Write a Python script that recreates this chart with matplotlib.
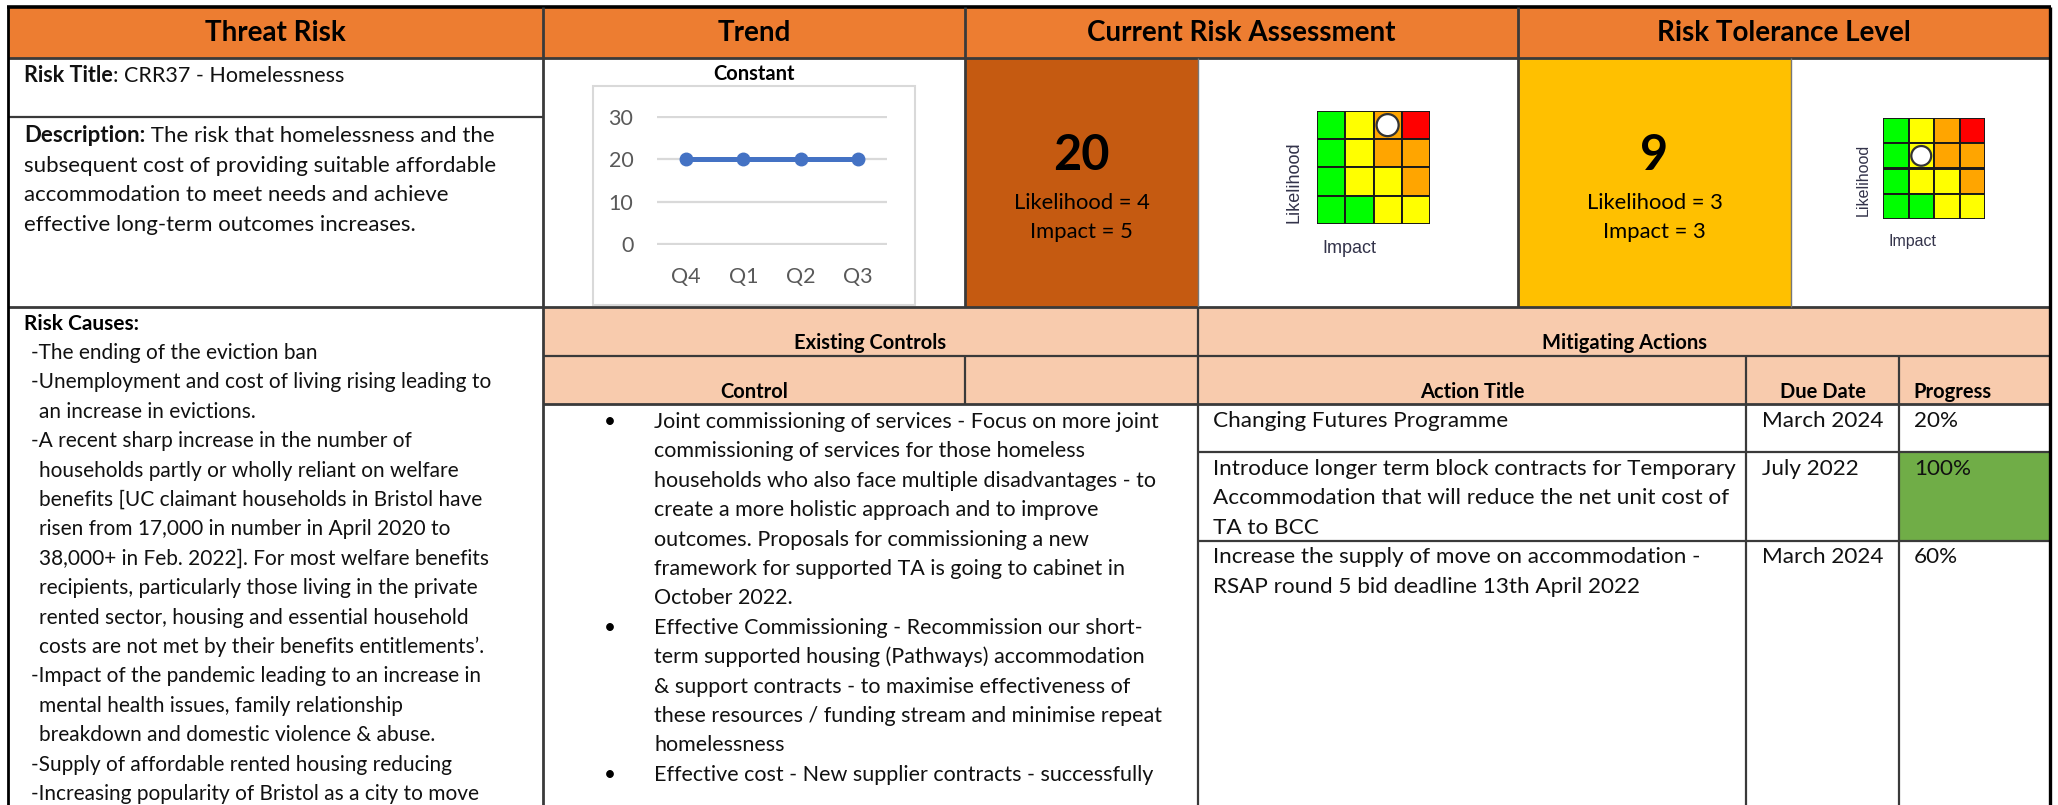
import matplotlib
matplotlib.use("Agg")
import matplotlib.pyplot as plt
from matplotlib.patches import Rectangle, Circle

plt.rcParams['font.family'] = ['Lato', 'DejaVu Sans']

W, H = 2058, 805

# ---------------- data ----------------
headers = ["Threat Risk", "Trend", "Current Risk Assessment", "Risk Tolerance Level"]

trend_title = "Constant"
quarters = ["Q4", "Q1", "Q2", "Q3"]
scores = [20, 20, 20, 20]
score_ticks = [0, 10, 20, 30]

current_score = 20
current_likelihood = 4
current_impact = 5
tolerance_score = 9
tolerance_likelihood = 3
tolerance_impact = 3

# heat map colours, top row first
matrix_colours = [
    ["#00FF00", "#FFFF00", "#FFA500", "#FF0000"],
    ["#00FF00", "#FFFF00", "#FFA500", "#FFA500"],
    ["#00FF00", "#FFFF00", "#FFFF00", "#FFA500"],
    ["#00FF00", "#00FF00", "#FFFF00", "#FFFF00"],
]
current_cell = (2, 0)    # (column, row from top)
tolerance_cell = (1, 1)

risk_title = "CRR37 - Homelessness"
description = [
    "The risk that homelessness and the",
    "subsequent cost of providing suitable affordable",
    "accommodation to meet needs and achieve",
    "effective long-term outcomes increases.",
]
causes = [
    "-The ending of the eviction ban",
    "-Unemployment and cost of living rising leading to",
    "an increase in evictions.",
    "-A recent sharp increase in the number of",
    "households partly or wholly reliant on welfare",
    "benefits [UC claimant households in Bristol have",
    "risen from 17,000 in number in April 2020 to",
    "38,000+ in Feb. 2022]. For most welfare benefits",
    "recipients, particularly those living in the private",
    "rented sector, housing and essential household",
    "costs are not met by their benefits entitlements\u2019.",
    "-Impact of the pandemic leading to an increase in",
    "mental health issues, family relationship",
    "breakdown and domestic violence & abuse.",
    "-Supply of affordable rented housing reducing",
    "-Increasing popularity of Bristol as a city to move",
]
controls = [
    ["Joint commissioning of services - Focus on more joint",
     "commissioning of services for those homeless",
     "households who also face multiple disadvantages - to",
     "create a more holistic approach and to improve",
     "outcomes. Proposals for commissioning a new",
     "framework for supported TA is going to cabinet in",
     "October 2022."],
    ["Effective Commissioning - Recommission our short-",
     "term supported housing (Pathways) accommodation",
     "& support contracts - to maximise effectiveness of",
     "these resources / funding stream and minimise repeat",
     "homelessness"],
    ["Effective cost - New supplier contracts - successfully"],
]
actions = [
    ["Changing Futures Programme"],
    ["Introduce longer term block contracts for Temporary",
     "Accommodation that will reduce the net unit cost of",
     "TA to BCC"],
    ["Increase the supply of move on accommodation -",
     "RSAP round 5 bid deadline 13th April 2022"],
]
due_dates = ["March 2024", "July 2022", "March 2024"]
progress = [20, 100, 60]

# ---------------- colours ----------------
ORANGE = "#ED7D31"
DARK_ORANGE = "#C55A11"
AMBER = "#FFC000"
PEACH = "#F8CBAD"
DONE_GREEN = "#70AD47"
LINE = "#3a3a3a"
BLUE = "#4472C4"

LINE_H = 29.4
FS_HEAD = 20
FS_SUB = 14.5
FS_CAUSE = 15
FS_DESC = 16
FS_CTRL = 15.5
FS_ACT = 16.2

fig = plt.figure(figsize=(W / 100, H / 100), dpi=100)
ax = fig.add_axes([0, 0, 1, 1])
ax.set_xlim(0, W)
ax.set_ylim(H, 0)
ax.axis('off')
renderer = fig.canvas.get_renderer()

# column edges
xL, xT, xC, xS, xR = 8, 543, 965, 1518, 2050
xC2, xS2 = 1198, 1791
xDue, xProg = 1746, 1899
yTop, yHead, yTitle, yRow2, yEx, ySub = 7, 58, 117, 307, 356, 404


def fill(x0, y0, x1, y1, c):
    ax.add_patch(Rectangle((x0, y0), x1 - x0, y1 - y0, facecolor=c, edgecolor='none', zorder=0))


def hline(y, x0, x1, lw=1.6, c=LINE):
    ax.plot([x0, x1], [y, y], color=c, lw=lw, solid_capstyle='butt', zorder=3)


def vline(x, y0, y1, lw=1.6, c=LINE):
    ax.plot([x, x], [y0, y1], color=c, lw=lw, solid_capstyle='butt', zorder=3)


def rich(x, y, parts, size):
    # draw consecutive runs of text with different weights on one line
    for txt, weight in parts:
        t = ax.text(x, y, txt, fontsize=size, fontweight=weight, va='center', ha='left', color='#111111')
        x += t.get_window_extent(renderer).width


# fills
fill(xL, yTop, xR, yHead, ORANGE)
fill(xC, yHead, xC2, yRow2, DARK_ORANGE)
fill(xS, yHead, xS2, yRow2, AMBER)
fill(xT, yRow2, xR, ySub, PEACH)

# header text
for (a, b), h in zip([(xL, xT), (xT, xC), (xC, xS), (xS, xR)], headers):
    ax.text((a + b) / 2, 33, h, fontsize=FS_HEAD, fontweight='bold', ha='center', va='center')

# threat risk cell
rich(24, 76, [("Risk Title", 'bold'), (": " + risk_title, 'normal')], 15.5)
rich(24, 136, [("Description:", 'bold'), (" " + description[0], 'normal')], FS_DESC)
for i, line in enumerate(description[1:], start=1):
    ax.text(24, 136 + i * 29.5, line, fontsize=FS_DESC, va='center', color='#111111')

# trend chart
ax.add_patch(Rectangle((593, 86), 915 - 593, 305 - 86, facecolor='white', edgecolor='#D9D9D9', lw=1.5, zorder=1))
ax.text(754, 74, trend_title, fontsize=14.5, fontweight='bold', ha='center', va='center')
axc = fig.add_axes([657 / W, 1 - 245 / H, (887 - 657) / W, (245 - 116) / H])
axc.plot(range(len(quarters)), scores, color=BLUE, lw=3.6, marker='o', ms=9, zorder=3)
axc.set_xlim(-0.5, len(quarters) - 0.5)
axc.set_ylim(-0.3, 30.3)
axc.set_yticks(score_ticks)
axc.set_xticks(range(len(quarters)))
axc.set_xticklabels(quarters)
axc.grid(axis='y', color='#D9D9D9', lw=1.6)
axc.set_axisbelow(True)
for s in axc.spines.values():
    s.set_visible(False)
axc.tick_params(length=0, labelsize=15.5, labelcolor='#595959')
axc.tick_params(axis='y', pad=17)
axc.tick_params(axis='x', pad=16)
axc.patch.set_alpha(0)

# scores
for cx, sc, lk, im in [((xC + xC2) / 2, current_score, current_likelihood, current_impact),
                       ((xS + xS2) / 2, tolerance_score, tolerance_likelihood, tolerance_impact)]:
    ax.text(cx, 156, str(sc), fontsize=35, fontweight='bold', ha='center', va='center')
    ax.text(cx, 203, f"Likelihood = {lk}", fontsize=15.8, ha='center', va='center')
    ax.text(cx, 232, f"Impact = {im}", fontsize=15.8, ha='center', va='center')


def risk_matrix(x0, y0, x1, y1, cell, lab_x, lab_y, imp_x, imp_y, fs):
    am = fig.add_axes([x0 / W, 1 - y1 / H, (x1 - x0) / W, (y1 - y0) / H])
    n = len(matrix_colours)
    for r, row in enumerate(matrix_colours):
        for c, col in enumerate(row):
            am.add_patch(Rectangle((c, r), 1, 1, facecolor=col, edgecolor='#1a1a1a', lw=1.4))
    am.add_patch(Circle((cell[0] + 0.5, cell[1] + 0.5), 0.39, facecolor='white',
                        edgecolor='#333333', lw=1.6, zorder=5))
    am.set_xlim(0, n)
    am.set_ylim(n, 0)
    am.axis('off')
    ax.text(lab_x, lab_y, "Likelihood", rotation=90, fontsize=fs, ha='center', va='center',
            family='Liberation Sans', color='#33334a')
    ax.text(imp_x, imp_y, "Impact", fontsize=fs, ha='center', va='center',
            family='Liberation Sans', color='#33334a')


risk_matrix(1317, 111, 1430, 224, current_cell, 1294, 182, 1349, 248, 13)
risk_matrix(1883, 118, 1985, 219, tolerance_cell, 1863, 180, 1912, 241, 11.5)

# risk causes
ax.text(24, 324, "Risk Causes:", fontsize=FS_CAUSE, fontweight='bold', va='center')
for i, line in enumerate(causes):
    x = 31 if line.startswith('-') else 39
    ax.text(x, 353 + i * LINE_H, line, fontsize=FS_CAUSE, va='center', color='#111111')

# controls
ax.text((xT + xC2) / 2, 343, "Existing Controls", fontsize=FS_SUB, fontweight='bold', ha='center', va='center')
ax.text((xT + xC) / 2, 392, "Control", fontsize=FS_SUB, fontweight='bold', ha='center', va='center')
k = 0
for item in controls:
    ax.text(610, 422 + k * LINE_H, "\u2022", fontsize=15, ha='center', va='center')
    for line in item:
        ax.text(654, 422 + k * LINE_H, line, fontsize=FS_CTRL, va='center', color='#111111')
        k += 1

# mitigating actions
ax.text((xC2 + xR) / 2, 343, "Mitigating Actions", fontsize=FS_SUB, fontweight='bold', ha='center', va='center')
ax.text((xC2 + xDue) / 2, 392, "Action Title", fontsize=FS_SUB, fontweight='bold', ha='center', va='center')
ax.text((xDue + xProg) / 2, 392, "Due Date", fontsize=FS_SUB, fontweight='bold', ha='center', va='center')
ax.text(1913, 392, "Progress", fontsize=FS_SUB, fontweight='bold', ha='left', va='center')
row_top = ySub
row_lines = []
for lines, due, pct in zip(actions, due_dates, progress):
    row_h = max(len(lines) * 29.5, 48)
    if pct >= 100:
        fill(xProg, row_top, xR, row_top + row_h, DONE_GREEN)
    for j, line in enumerate(lines):
        ax.text(1213, row_top + 16.5 + j * 29.5, line, fontsize=FS_ACT, va='center', color='#111111')
    ax.text(1762, row_top + 16.5, due, fontsize=FS_ACT, va='center', color='#111111')
    ax.text(1914, row_top + 16.5, f"{pct}%", fontsize=FS_ACT, va='center', color='#111111')
    row_top += row_h
    row_lines.append(row_top)

# grid lines
hline(yTop, xL - 1, xR + 1, lw=2.6, c='black')
hline(yHead, xL, xR, lw=2.0)
hline(yTitle, xL, xT)
hline(yRow2, xL, xR, lw=2.0)
hline(yEx, xT, xR)
hline(ySub, xT, xR, lw=2.0)
for y in row_lines[:-1]:
    hline(y, xC2, xR)
vline(xL, yTop, H, lw=2.0, c='black')
vline(xT, yTop, H, lw=2.0)
vline(xC, yTop, yRow2, lw=2.0)
vline(xC, yEx, ySub)
vline(xS, yTop, yRow2, lw=2.0)
vline(xC2, yHead, yRow2, lw=1.0, c='#777777')
vline(xC2, yRow2, H)
vline(xS2, yHead, yRow2, lw=1.0, c='#777777')
vline(xDue, yEx, H)
vline(xProg, yEx, H)
vline(xR, yTop, H, lw=2.4, c='black')

fig.savefig("out.png", dpi=100)
